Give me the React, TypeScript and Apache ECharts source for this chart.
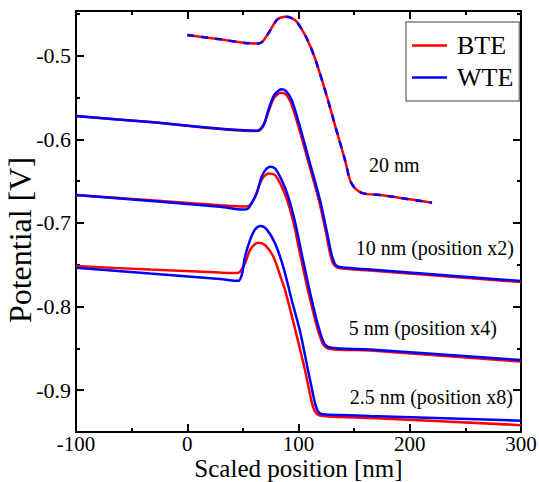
import React, { useEffect, useRef } from "react";
import * as echarts from "echarts";

// ---- data (x in nm, potential in V) ----
const bte20: number[][] = [[0,-0.4752],[29.4,-0.4804],[56.4,-0.4852],[63.9,-0.4854],[68.1,-0.4824],[72.9,-0.4732],[80.4,-0.4573],[84.3,-0.4543],[88.8,-0.4533],[93.3,-0.4547],[98.4,-0.4593],[107.4,-0.4792],[114.8,-0.5031],[125.3,-0.5476],[134.3,-0.5901],[141.8,-0.6248],[146.3,-0.6487],[150.8,-0.6586],[158.2,-0.6646],[173.3,-0.6666],[220,-0.6758]];
const wte20: number[][] = [[0,-0.4752],[29.4,-0.4804],[56.4,-0.4852],[63.9,-0.4854],[68.1,-0.4824],[72.9,-0.4732],[80.4,-0.4573],[84.3,-0.4543],[88.8,-0.4533],[93.3,-0.4547],[98.4,-0.4593],[107.4,-0.4792],[114.8,-0.5031],[125.3,-0.5476],[134.3,-0.5901],[141.8,-0.6248],[146.3,-0.6487],[150.8,-0.6586],[158.2,-0.6646],[173.3,-0.6666],[220,-0.6758]];

const bte10: number[][] = [[-100,-0.5722],[-33.5,-0.5793],[62.4,-0.5901],[68.4,-0.5841],[72.9,-0.5674],[77.3,-0.5524],[80.9,-0.5464],[84.3,-0.5443],[88.8,-0.5464],[93.3,-0.5566],[100.4,-0.5865],[109.4,-0.6296],[118.4,-0.6732],[124.7,-0.7115],[128.3,-0.736],[131.0,-0.748],[134.2,-0.7528],[140,-0.7546],[164.3,-0.757],[300,-0.7707]];
const wte10: number[][] = [[-100,-0.5721],[-33.5,-0.5793],[62.4,-0.5897],[68.4,-0.5829],[72.9,-0.565],[77.3,-0.549],[80.9,-0.5431],[84.3,-0.5402],[88.8,-0.5422],[93.9,-0.553],[101.3,-0.5849],[110.3,-0.6287],[119.3,-0.6726],[125.6,-0.7109],[129.2,-0.7348],[131.9,-0.7468],[134.6,-0.7516],[140,-0.7533],[164.3,-0.7557],[300,-0.7695]];

const bte5: number[][] = [[-100,-0.6666],[29.4,-0.6788],[51.9,-0.6804],[56.4,-0.6786],[60.9,-0.669],[64.5,-0.6559],[68.1,-0.6457],[73.5,-0.6407],[78.9,-0.6427],[84.3,-0.6547],[90.1,-0.6738],[96.0,-0.7025],[101.8,-0.7396],[107.2,-0.7731],[111.7,-0.7982],[116.2,-0.8221],[119.8,-0.8377],[122.5,-0.8461],[126.5,-0.8502],[137.3,-0.8517],[164.3,-0.8526],[300,-0.8658]];
const wte5: number[][] = [[-100,-0.6666],[29.4,-0.6806],[50.1,-0.684],[54.6,-0.6828],[59.4,-0.6726],[62.4,-0.6646],[66.9,-0.6447],[70.3,-0.6367],[74.4,-0.6328],[78.9,-0.6349],[84.9,-0.6487],[90.8,-0.6687],[96.9,-0.6989],[103.1,-0.7384],[108.5,-0.7719],[113.0,-0.7982],[117.5,-0.8221],[121.1,-0.8377],[123.8,-0.8455],[128.3,-0.849],[137.3,-0.8502],[164.3,-0.8512],[300,-0.864]];

const bte25: number[][] = [[-100,-0.7516],[-33.5,-0.7558],[29.4,-0.7593],[43.8,-0.7599],[47.4,-0.7584],[51.9,-0.7483],[56.4,-0.7324],[60.9,-0.7252],[63.9,-0.7237],[69.9,-0.7264],[77.4,-0.7404],[84.9,-0.7683],[87.9,-0.7803],[92.4,-0.803],[96.9,-0.8269],[101.3,-0.8508],[105.8,-0.8759],[109.4,-0.8986],[112.1,-0.9154],[114.4,-0.9244],[117.5,-0.9292],[122.5,-0.931],[137.3,-0.9322],[164.3,-0.9334],[300,-0.9418]];
const wte25: number[][] = [[-100,-0.7536],[-33.5,-0.7605],[29.4,-0.7671],[40.2,-0.7689],[45.9,-0.7692],[49.2,-0.7611],[51.9,-0.7404],[56.4,-0.7205],[60.9,-0.7077],[66.0,-0.7037],[71.4,-0.7077],[78.9,-0.7244],[86.3,-0.7524],[93.9,-0.7922],[101.1,-0.8281],[104.7,-0.8508],[108.5,-0.8759],[112.1,-0.8986],[114.8,-0.9154],[117.1,-0.9244],[119.8,-0.928],[123.8,-0.9292],[137.3,-0.9298],[164.3,-0.931],[300,-0.9364]];

const xMajor = [-100, 0, 100, 200, 300];
const xMinor = [-50, 50, 150, 250];
const yMajor = [-0.9, -0.8, -0.7, -0.6, -0.5];
const yMinor = [-0.85, -0.75, -0.65, -0.55, -0.45];

const labels = [
  { text: "20 nm", x: 369, y: 165, align: "left" },
  { text: "10 nm (position x2)", x: 514, y: 248, align: "right" },
  { text: "5 nm (position x4)", x: 497, y: 328, align: "right" },
  { text: "2.5 nm (position x8)", x: 513, y: 397, align: "right" },
];

const FONT = "Liberation Serif";
const RED = "#ff0000";
const BLUE = "#0000ff";

export default function App() {
  const ref = useRef<HTMLDivElement>(null);
  useEffect(() => {
    if (!ref.current) return;
    const chart = echarts.init(ref.current, undefined, { renderer: "svg" });
    const X_MIN = -100, X_MAX = 300, Y_MIN = -0.95, Y_MAX = -0.4465;
    const gridPos = { left: 76, right: 18, top: 11, bottom: 50, containLabel: false, outerBoundsMode: "none" };
    const axLine = { show: true, onZero: false, lineStyle: { color: "#000", width: 2 } };
    const noLine = { show: false, onZero: false };
    const tickMajor = { show: true, inside: true, length: 8, lineStyle: { color: "#000", width: 2 } };
    const tickMinor = { show: true, inside: true, length: 4, lineStyle: { color: "#000", width: 2 } };
    const lbl = { fontFamily: FONT, fontSize: 21, color: "#000" };
    const fmt = (v: number) => String(Math.round(v * 10) / 10);
    const line = (name: string, data: number[][], color: string, z: number, dashed = false) => ({
      type: "line", name, data, xAxisIndex: 0, yAxisIndex: 0, symbol: "none", smooth: 0.3, z,
      lineStyle: { color, width: 2.5, type: dashed ? [7, 7] : "solid" },
      itemStyle: { color }, emphasis: { disabled: true },
    });
    chart.setOption({
      animation: false,
      grid: [ { ...gridPos }, { ...gridPos } ],
      legend: {
        data: ["BTE", "WTE"], orient: "vertical", left: 406, top: 22,
        icon: "rect", itemWidth: 35, itemHeight: 2.5, itemGap: 5, padding: [10, 6, 10, 6],
        borderColor: "#808080", borderWidth: 1.5, backgroundColor: "#fff",
        textStyle: { fontFamily: FONT, fontSize: 26, color: "#000", lineHeight: 27, padding: [0, 0, 0, 5] },
      },
      xAxis: [
        { gridIndex: 0, type: "value", position: "bottom", min: X_MIN, max: X_MAX,
          name: "Scaled position [nm]", nameLocation: "middle", nameGap: 24, nameMoveOverlap: false,
          nameTextStyle: { fontFamily: FONT, fontSize: 25, color: "#000", lineHeight: 25 },
          axisLine: axLine, splitLine: { show: false },
          axisTick: { ...tickMajor, customValues: xMajor },
          axisLabel: { ...lbl, margin: 1, customValues: xMajor } },
        { gridIndex: 0, type: "value", position: "top", min: X_MIN, max: X_MAX,
          axisLine: axLine, splitLine: { show: false },
          axisTick: { ...tickMajor, customValues: xMajor }, axisLabel: { show: false } },
        { gridIndex: 1, type: "value", position: "bottom", min: X_MIN, max: X_MAX,
          axisLine: noLine, splitLine: { show: false },
          axisTick: { ...tickMinor, customValues: xMinor }, axisLabel: { show: false } },
        { gridIndex: 1, type: "value", position: "top", min: X_MIN, max: X_MAX,
          axisLine: noLine, splitLine: { show: false },
          axisTick: { ...tickMinor, customValues: xMinor }, axisLabel: { show: false } },
      ],
      yAxis: [
        { gridIndex: 0, type: "value", position: "left", min: Y_MIN, max: Y_MAX,
          axisLine: axLine, splitLine: { show: false },
          axisTick: { ...tickMajor, customValues: yMajor },
          axisLabel: { ...lbl, fontSize: 22, margin: 5, customValues: yMajor, formatter: fmt } },
        { gridIndex: 0, type: "value", position: "right", min: Y_MIN, max: Y_MAX,
          axisLine: axLine, splitLine: { show: false },
          axisTick: { ...tickMajor, customValues: yMajor }, axisLabel: { show: false } },
        { gridIndex: 1, type: "value", position: "left", min: Y_MIN, max: Y_MAX,
          axisLine: noLine, splitLine: { show: false },
          axisTick: { ...tickMinor, customValues: yMinor }, axisLabel: { show: false } },
        { gridIndex: 1, type: "value", position: "right", min: Y_MIN, max: Y_MAX,
          axisLine: noLine, splitLine: { show: false },
          axisTick: { ...tickMinor, customValues: yMinor }, axisLabel: { show: false } },
      ],
      series: [
        line("BTE", bte20, RED, 2),
        line("WTE", wte20, BLUE, 3, true),
        line("BTE", bte10, RED, 2),
        line("WTE", wte10, BLUE, 3),
        line("BTE", bte5, RED, 2),
        line("WTE", wte5, BLUE, 3),
        line("BTE", bte25, RED, 2),
        line("WTE", wte25, BLUE, 3),
      ],
      graphic: [
        ...labels.map((l) => ({
          type: "text", x: l.x, y: l.y, z: 10,
          style: { text: l.text, fontFamily: FONT, fontSize: 20, fill: "#000",
            textAlign: l.align, textVerticalAlign: "middle" },
        })),
        { type: "text", x: 20, y: 240, rotation: Math.PI / 2, z: 10,
          style: { text: "Potential [V]", fontFamily: FONT, fontSize: 32, fill: "#000",
            textAlign: "center", textVerticalAlign: "middle" } },
      ],
    });
    return () => chart.dispose();
  }, []);
  return <div ref={ref} style={{ width: 539, height: 482, position: "absolute", left: 0, top: 0 }} />;
}
